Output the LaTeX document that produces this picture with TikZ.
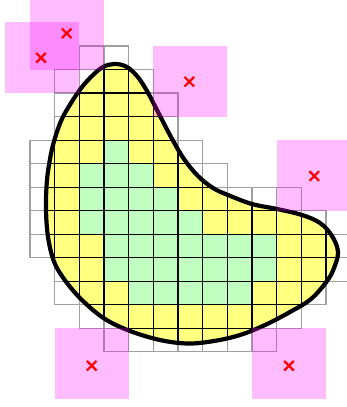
\documentclass[tikz,border=0pt]{standalone}
\definecolor{blobyellow}{RGB}{255,255,128}
\definecolor{cellgreen}{RGB}{192,255,192}
\definecolor{gridgray}{RGB}{160,160,160}
\definecolor{halomag}{RGB}{255,0,255}
\definecolor{crossred}{RGB}{255,0,0}
\begin{document}
\begin{tikzpicture}[x=1pt,y=-1pt,
  gridline/.style={draw=gridgray, line width=1.1pt},
  innerline/.style={draw=black, line width=1.1pt},
  greencell/.style={fill=cellgreen},
  halo/.style={fill=halomag, fill opacity=0.26},
  crossline/.style={draw=crossred, line width=2.2pt},
  blobline/.style={draw=black, line width=4.2pt},
  gridcoords/.style={shift={(30pt,-46pt)}, x=24.667pt, y=-23.52pt}]
\useasboundingbox (0,0) rectangle (347,407);
\clip (0,0) rectangle (347,407);
\def\blob{plot[smooth cycle, tension=0.6] coordinates {(114,64) (126,66.5) (137,76) (147,91) (158,112) (171,137) (184,159) (198,176) (213,188) (228,195) (252,204) (277,209) (302,215) (320,223) (332,236) (338,252) (334,268) (327,281) (311,299) (290,312) (265,325) (240,335) (214,341) (188,343.5) (160,340) (130,331) (105,319) (84,302) (67,283) (55,264) (49,243) (46.5,222) (46,200) (47,180) (49,165) (53,145) (61,121) (71,103) (82,87) (93,75) (103,67)}}
\def\cellrows{0/2/3, 1/1/4, 2/1/5, 3/1/5, 4/0/6, 5/0/7, 6/0/10, 7/0/11, 8/0/12, 9/1/12, 10/1/11, 11/2/10, 12/3/9}
% grey grid
\begin{scope}[gridcoords]
  \foreach \j/\a/\b in \cellrows {
    \foreach \i in {\a,...,\b} { \path[gridline] (\i,\j) rectangle ++(1,1); }
  }
\end{scope}
% shape fill
\fill[blobyellow] \blob;
% green cells
\begin{scope}[gridcoords]
  \foreach \j/\a/\b in {4/3/3, 5/2/4, 6/2/5, 7/2/6, 8/3/9, 9/3/9, 10/4/8} {
    \foreach \i in {\a,...,\b} { \path[greencell] (\i,\j) rectangle ++(1,1); }
  }
\end{scope}
% black grid inside the shape
\begin{scope}
  \clip \blob;
  \begin{scope}[gridcoords]
    \foreach \j/\a/\b in \cellrows {
      \foreach \i in {\a,...,\b} { \path[innerline] (\i,\j) rectangle ++(1,1); }
    }
  \end{scope}
\end{scope}
% outline
\draw[blobline] \blob;
% magenta squares
\begin{scope}[gridcoords]
  \foreach \a/\b in {-1/-1, 0/-2, 5/0, 10/4, 1/12, 9/12} {
    \path[halo] (\a,\b) rectangle ++(3,3);
  }
\end{scope}
% crosses
\coordinate (pa) at (41,57.7);
\coordinate (pb) at (66.7,33.3);
\coordinate (pc) at (189.3,81.7);
\coordinate (pd) at (314.3,176);
\coordinate (pe) at (91.7,365.7);
\coordinate (pf) at (289,365.7);
\foreach \p in {pa,pb,pc,pd,pe,pf} {
  \draw[crossline] (\p) +(-4.8,-4.8) -- +(4.8,4.8) (\p) +(-4.8,4.8) -- +(4.8,-4.8);
}
\end{tikzpicture}
\end{document}
